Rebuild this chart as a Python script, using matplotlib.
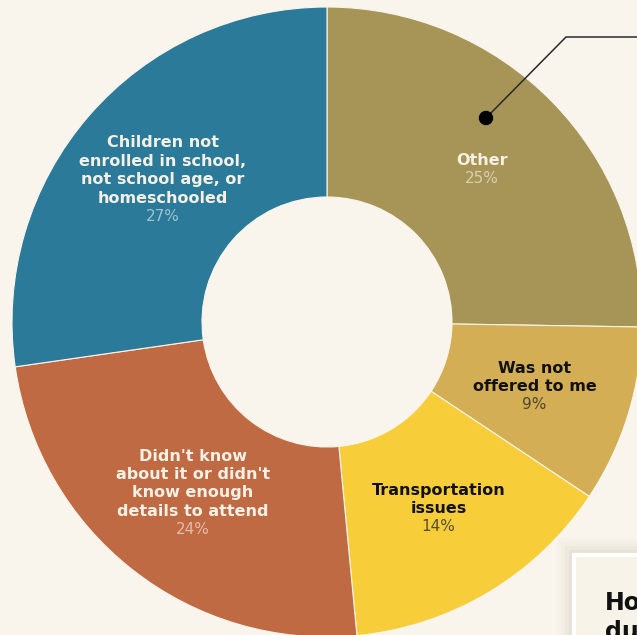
import numpy as np
import matplotlib.pyplot as plt
from matplotlib.patches import Rectangle, Circle

# share of responses per reason
reasons = ['Other', 'Was not\noffered to me', 'Transportation\nissues',
           "Didn't know\nabout it or didn't\nknow enough\ndetails to attend",
           'Children not\nenrolled in school,\nnot school age, or\nhomeschooled']
shares = [25, 9, 14, 24, 27]
colors = ['#A69556', '#D4AE55', '#F7CE3A', '#C06A44', '#2B7A99']
dark_text = [False, True, True, False, False]

W, H = 637, 635
bg = '#F9F5EC'

fig = plt.figure(figsize=(W / 100, H / 100), dpi=100, facecolor=bg)
ax = fig.add_axes([0, 0, 1, 1])
ax.set_facecolor(bg)

cx, cy, R = 327, 313, 315
wedges, _ = ax.pie(shares, colors=colors, startangle=90, counterclock=False,
                   center=(cx, cy), radius=R,
                   wedgeprops=dict(width=R - 125, edgecolor=bg, linewidth=0.8))

ax.set_xlim(0, W)
ax.set_ylim(0, H)
ax.set_aspect('equal')
ax.axis('off')

lh = 18.4
for w, name, pct, dark in zip(wedges, reasons, shares, dark_text):
    mid = np.deg2rad((w.theta1 + w.theta2) / 2)
    lx = cx + 0.69 * R * np.cos(mid)
    ly = cy + 0.69 * R * np.sin(mid)
    lines = name.split('\n')
    n = len(lines) + 1
    top = ly + (n - 1) / 2 * lh
    if dark:
        c_name, c_pct, a_pct = '#111111', '#222222', 0.75
    else:
        c_name, c_pct, a_pct = '#F6F1E6', '#FFFFFF', 0.55
    for i, line in enumerate(lines):
        ax.text(lx, top - i * lh, line, ha='center', va='center',
                fontsize=11.5, fontweight='bold', color=c_name)
    ax.text(lx, top - len(lines) * lh, f'{pct}%', ha='center', va='center',
            fontsize=11, color=c_pct, alpha=a_pct)

# callout pointing into the "Other" slice
ax.plot([486, 566, W + 5], [H - 118, H - 37, H - 37], color='#2A2A2A',
        lw=1.1, solid_joinstyle='miter', zorder=5)
ax.add_patch(Circle((486, H - 118), 6.5, color='black', zorder=6))

# detail card peeking in from the corner
for k, a in enumerate([0.05, 0.04, 0.03, 0.02]):
    pad = 3 + 4 * k
    ax.add_patch(Rectangle((572 - pad, -50), 200, H - 553 + 50 + pad,
                           facecolor='#8A7A55', alpha=a, lw=0, zorder=6))
ax.add_patch(Rectangle((573.5, -50), 200, H - 553 + 48.5,
                       facecolor='#F8F3E8', edgecolor='white', lw=3, zorder=7))
ax.text(605, H - 603, 'How', ha='left', va='center', fontsize=17,
        fontweight='bold', color='#111111', zorder=8)
ax.text(605, H - 632, 'during', ha='left', va='center', fontsize=17,
        fontweight='bold', color='#111111', zorder=8)

fig.savefig('out.png', dpi=100, facecolor=bg)
